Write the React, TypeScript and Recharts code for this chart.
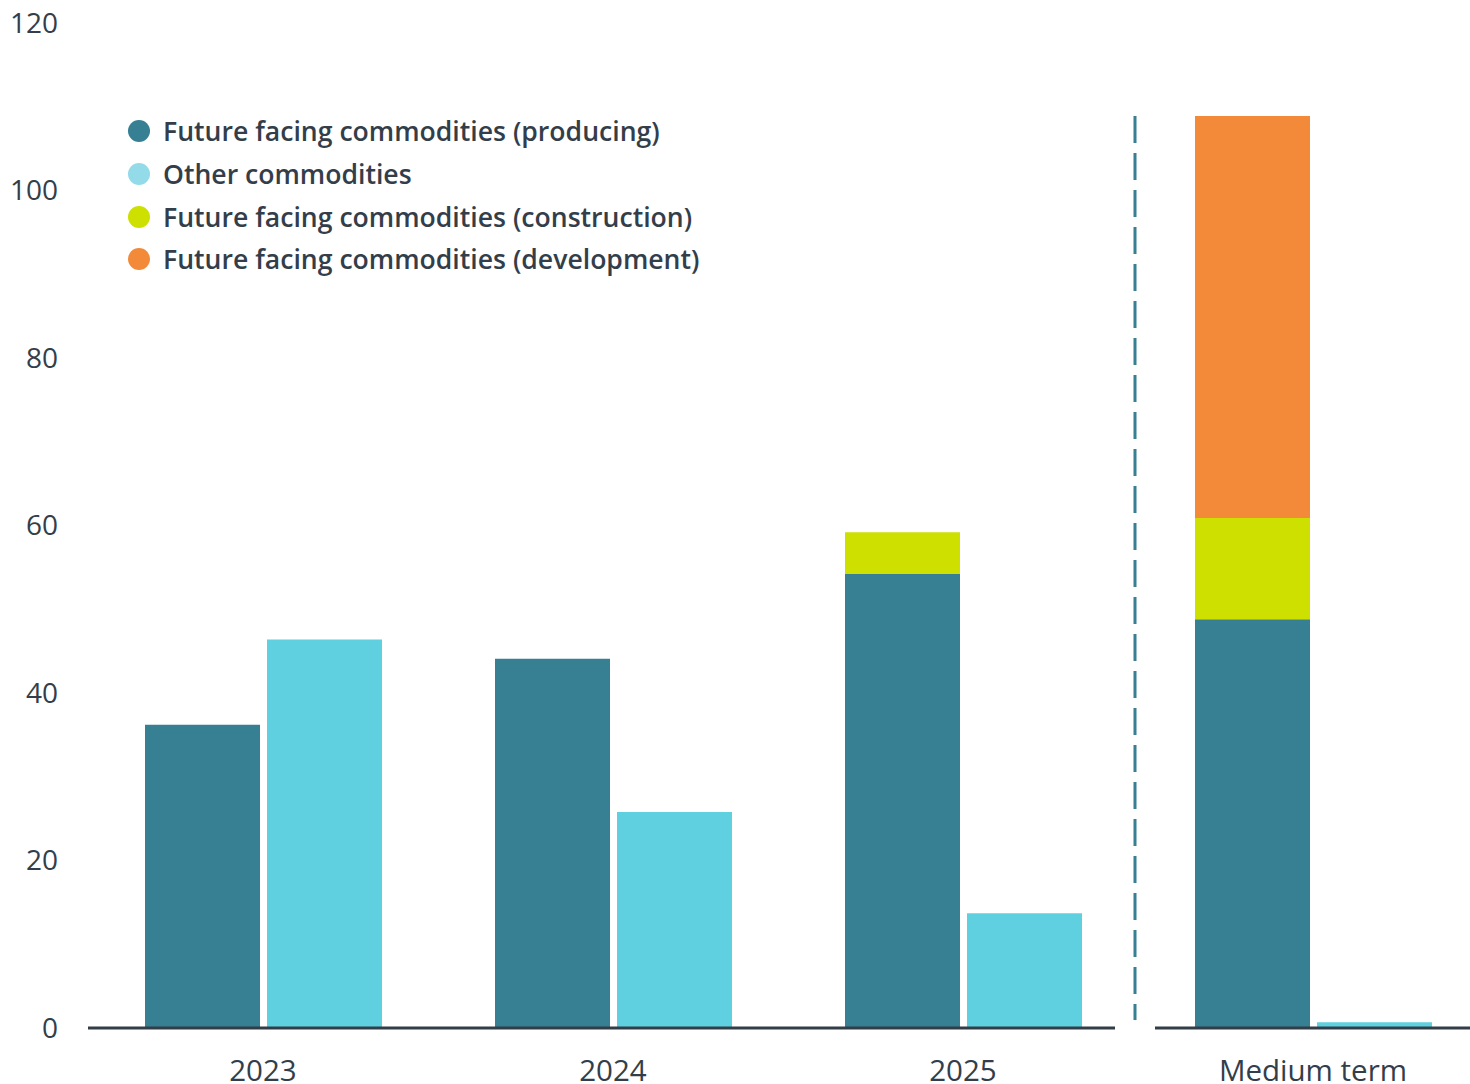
import React from "react";
import { BarChart, Bar, XAxis, YAxis, Legend, ReferenceLine } from "recharts";

const categories = ["2023", "2024", "2025", "Medium term"];
const producing = [36.2, 44.1, 54.2, 48.8];
const other = [46.4, 25.8, 13.7, 0.7];
const construction = [0, 0, 5.0, 12.1];
const development = [0, 0, 0, 48.0];
const yTicks = [0, 20, 40, 60, 80, 100, 120];

const seriesNames = [
  "Future facing commodities (producing)",
  "Other commodities",
  "Future facing commodities (construction)",
  "Future facing commodities (development)",
];
const seriesColors = ["#377f93", "#5fd0df", "#cde000", "#f28a39"];
const legendDotColors = ["#377f93", "#93dbe8", "#cde000", "#f28a39"];

const data = categories.map((c, i) => ({
  name: c,
  producing: producing[i],
  other: other[i],
  construction: construction[i],
  development: development[i],
}));

const FONT = "'Open Sans', sans-serif";
const TEXT = "#333e4a";

const renderLegend = () => (
  <div style={{ fontFamily: FONT }}>
    {seriesNames.map((n, i) => (
      <div
        key={n}
        style={{ display: "flex", alignItems: "center", height: 42.7 }}
      >
        <span
          style={{
            display: "inline-block",
            width: 22,
            height: 22,
            borderRadius: 11,
            background: legendDotColors[i],
            marginRight: 13,
          }}
        />
        <span style={{ fontSize: 26.6, fontWeight: 600, color: TEXT }}>{n}</span>
      </div>
    ))}
  </div>
);

export default function App() {
  return (
    <div
      style={{
        position: "absolute",
        left: 0,
        top: 0,
        width: 1470,
        height: 1084,
        overflow: "hidden",
        background: "#fff",
      }}
    >
      <BarChart
        width={1500}
        height={1084}
        data={data}
        margin={{ top: 23, right: 12, bottom: 0, left: 0 }}
        barSize={115}
        barGap={7}
      >
        <XAxis
          dataKey="name"
          height={56}
          tickSize={0}
          tickMargin={32}
          tickLine={false}
          axisLine={{ stroke: "#333d47", strokeWidth: 3, strokeDasharray: "1027 40 600" }}
          tick={{ fill: TEXT, fontSize: 29.5, fontFamily: FONT }}
          interval={0}
        />
        <YAxis
          width={88}
          domain={[0, 120]}
          ticks={yTicks}
          tickSize={0}
          tickMargin={30}
          tickLine={false}
          axisLine={false}
          tick={{ fill: TEXT, fontSize: 28, fontFamily: FONT }}
          interval={0}
        />
        <Legend
          layout="vertical"
          align="center"
          verticalAlign="middle"
          content={renderLegend}
          wrapperStyle={{ left: 128, top: 110, width: 720, height: 180 }}
        />
        <Bar dataKey="producing" stackId="a" fill={seriesColors[0]} isAnimationActive={false} />
        <Bar dataKey="other" stackId="b" fill={seriesColors[1]} isAnimationActive={false} />
        <Bar dataKey="construction" stackId="a" fill={seriesColors[2]} isAnimationActive={false} />
        <Bar dataKey="development" stackId="a" fill={seriesColors[3]} isAnimationActive={false} />
        <ReferenceLine
          segment={[
            { x: "2025", y: 108.9 },
            { x: "2025", y: 0.95 },
          ]}
          position="end"
          stroke="#377f93"
          strokeWidth={3}
          strokeDasharray="27 10"
          transform="translate(-3,0)"
        />
      </BarChart>
    </div>
  );
}
